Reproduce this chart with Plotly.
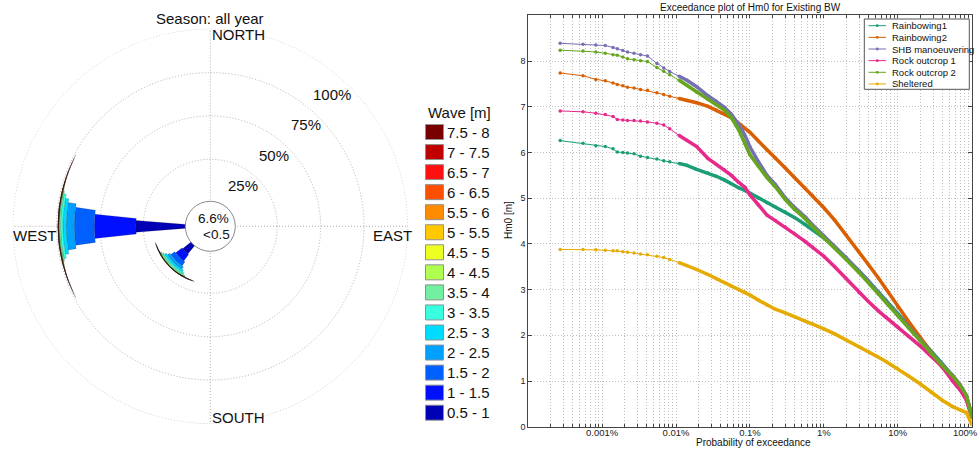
import plotly.graph_objects as go

# ---------------- Wave rose data ----------------
wave_classes = ["0.5 - 1", "1 - 1.5", "1.5 - 2", "2 - 2.5", "2.5 - 3", "3 - 3.5", "3.5 - 4",
                "4 - 4.5", "4.5 - 5", "5 - 5.5", "5.5 - 6", "6 - 6.5", "6.5 - 7", "7 - 7.5", "7.5 - 8"]
wave_colors = ["#0000b4", "#0010ff", "#0060ff", "#00a0ff", "#00dcff", "#38ffe0", "#70f0a0",
               "#b0ff50", "#ecff20", "#ffc800", "#ff8c00", "#ff5000", "#ff1010", "#c00000", "#780000"]
rose_directions = [270, 225]
freq_west = [29.3, 24.0, 11.5, 4.7, 1.9, 1.4, 0.8, 0.2, 0.12, 0.08, 0.06, 0.05, 0.04, 0.04, 0.04]
freq_sw = [6.9, 4.6, 2.9, 1.7, 1.1, 0.9, 0.9, 0.12, 0.08, 0.06, 0.05, 0.04, 0.03, 0.03, 0.03]
sector_width_west = [9, 12, 16, 19, 22, 25, 27, 30, 34, 38, 42, 46, 50, 53, 56]
sector_width_sw = [12, 15, 19, 23, 27, 31, 35, 38, 42, 46, 50, 52, 54, 56, 58]
calm_label = ["6.6%", "<0.5"]
radial_ticks = [25, 50, 75, 100]
radial_labels = ["25%", "50%", "75%", "100%"]

# ---------------- Exceedance data ----------------
prob_pct = [0.00027, 0.00055, 0.00082, 0.0011, 0.0014, 0.0016, 0.0019, 0.0022, 0.0027, 0.0033,
            0.0041, 0.0055, 0.0068, 0.0082, 0.011, 0.014, 0.019, 0.027, 0.035, 0.045,
            0.055, 0.07, 0.085, 0.1, 0.13, 0.17, 0.22, 0.3, 0.4, 0.55,
            0.7, 1.0, 1.4, 2.0, 3.0, 4.0, 5.5, 7.0, 10, 14,
            20, 28, 40, 55, 70, 85, 100]
hm0_rainbowing1 = [6.26, 6.20, 6.15, 6.13, 6.08, 6.01, 6.00, 5.99, 5.97, 5.92,
                   5.89, 5.86, 5.82, 5.80, 5.76, 5.72, 5.63, 5.55, 5.48, 5.40,
                   5.32, 5.23, 5.17, 5.11, 5.00, 4.90, 4.81, 4.70, 4.58, 4.43,
                   4.31, 4.13, 3.93, 3.69, 3.41, 3.19, 2.95, 2.76, 2.48, 2.21,
                   1.93, 1.66, 1.38, 1.10, 0.89, 0.66, 0.25]
hm0_rainbowing2 = [7.74, 7.68, 7.60, 7.57, 7.52, 7.49, 7.46, 7.43, 7.41, 7.38,
                   7.36, 7.31, 7.27, 7.23, 7.18, 7.14, 7.09, 7.01, 6.93, 6.84,
                   6.77, 6.64, 6.52, 6.44, 6.25, 6.05, 5.88, 5.66, 5.45, 5.23,
                   5.06, 4.79, 4.52, 4.20, 3.82, 3.55, 3.25, 3.00, 2.62, 2.30,
                   1.96, 1.65, 1.30, 1.06, 0.86, 0.66, 0.30]
hm0_shb = [8.39, 8.37, 8.35, 8.34, 8.30, 8.27, 8.23, 8.20, 8.17, 8.14,
           8.11, 7.95, 7.85, 7.77, 7.67, 7.58, 7.44, 7.24, 7.12, 6.99,
           6.85, 6.62, 6.38, 6.12, 5.80, 5.50, 5.30, 5.01, 4.80, 4.60,
           4.42, 4.18, 3.95, 3.70, 3.40, 3.19, 2.92, 2.73, 2.45, 2.18,
           1.90, 1.63, 1.36, 1.13, 0.92, 0.68, 0.25]
hm0_rock1 = [6.91, 6.89, 6.86, 6.83, 6.79, 6.72, 6.71, 6.70, 6.70, 6.69,
             6.67, 6.64, 6.60, 6.52, 6.37, 6.27, 6.13, 5.87, 5.74, 5.62,
             5.51, 5.35, 5.24, 5.07, 4.85, 4.63, 4.51, 4.37, 4.22, 4.06,
             3.93, 3.73, 3.50, 3.24, 2.93, 2.74, 2.53, 2.39, 2.18, 1.98,
             1.77, 1.55, 1.31, 1.00, 0.80, 0.58, 0.20]
hm0_rock2 = [8.24, 8.22, 8.20, 8.17, 8.14, 8.13, 8.09, 8.05, 8.03, 8.01,
             7.99, 7.86, 7.78, 7.70, 7.58, 7.47, 7.32, 7.16, 7.05, 6.93,
             6.78, 6.50, 6.20, 5.95, 5.70, 5.45, 5.25, 4.97, 4.76, 4.56,
             4.38, 4.14, 3.91, 3.66, 3.37, 3.16, 2.90, 2.71, 2.43, 2.16,
             1.88, 1.61, 1.34, 1.11, 0.90, 0.68, 0.20]
hm0_sheltered = [3.88, 3.88, 3.87, 3.86, 3.85, 3.85, 3.83, 3.82, 3.80, 3.78,
                 3.76, 3.73, 3.70, 3.66, 3.59, 3.53, 3.44, 3.33, 3.24, 3.15,
                 3.08, 3.01, 2.95, 2.88, 2.77, 2.66, 2.57, 2.49, 2.41, 2.32,
                 2.25, 2.14, 2.03, 1.90, 1.75, 1.64, 1.52, 1.42, 1.27, 1.11,
                 0.94, 0.76, 0.58, 0.44, 0.37, 0.31, 0.05]
series_names = ["Rainbowing1", "Rainbowing2", "SHB manoeuvering", "Rock outcrop 1", "Rock outcrop 2", "Sheltered"]
series_values = [hm0_rainbowing1, hm0_rainbowing2, hm0_shb, hm0_rock1, hm0_rock2, hm0_sheltered]
series_colors = ["#1b9e77", "#d95f02", "#7570b3", "#e7298a", "#66a61e", "#e6ab02"]
x_major_ticks = [0.001, 0.01, 0.1, 1, 10, 100]
x_tick_labels = ["0.001%", "0.01%", "0.1%", "1%", "10%", "100%"]
y_ticks = [0, 1, 2, 3, 4, 5, 6, 7, 8]

W, H = 980, 450
def PX(x): return x / W
def PY(y): return 1 - y / H

FONT = "Liberation Sans, Arial, Helvetica, sans-serif"
fig = go.Figure()

# ---------------- Rose ----------------
for i, cls in enumerate(wave_classes):
    fig.add_trace(go.Barpolar(
        r=[freq_west[i], freq_sw[i]], theta=rose_directions,
        width=[sector_width_west[i], sector_width_sw[i]],
        marker=dict(color=wave_colors[i], line=dict(color="rgba(0,0,0,0.45)", width=0.35)),
        name=cls, showlegend=False, subplot="polar", hoverinfo="skip"))

cx, cy, R, r0 = 210.3, 226.3, 197.0, 23.7
GRID = "#b0b0b0"
DOTS = "1px,2px"
fig.update_layout(polar=dict(
    domain=dict(x=[PX(cx - R), PX(cx + R)], y=[PY(cy + R), PY(cy - R)]),
    hole=r0 / R, bgcolor="white", barmode="stack",
    radialaxis=dict(range=[0, 100], tickvals=radial_ticks, showticklabels=False, ticks="",
                    showline=False, gridcolor=GRID, griddash=DOTS, gridwidth=1),
    angularaxis=dict(direction="clockwise", rotation=90, tickvals=[0, 90, 180, 270],
                     showticklabels=False, ticks="", showline=False,
                     gridcolor=GRID, griddash=DOTS, gridwidth=1)))

shapes = []
annotations = []
# outer 100% ring
shapes.append(dict(type="circle", xref="paper", yref="paper",
                   x0=PX(cx - R), x1=PX(cx + R), y0=PY(cy + R), y1=PY(cy - R),
                   line=dict(color=GRID, width=1, dash=DOTS), layer="below"))
# centre calm circle
rc = 25.0
shapes.append(dict(type="circle", xref="paper", yref="paper",
                   x0=PX(cx - rc), x1=PX(cx + rc), y0=PY(cy + rc), y1=PY(cy - rc),
                   line=dict(color="#8a8a8a", width=1), fillcolor="white", layer="above"))
annotations.append(dict(x=PX(213.5), y=PY(218.5), text=calm_label[0], size=13.5))
annotations.append(dict(x=PX(216), y=PY(234), text=calm_label[1], size=13.5))
# radial labels
for lab, (lx, ly) in zip(radial_labels, [(243, 185), (274, 155), (306, 124), (332, 94)]):
    annotations.append(dict(x=PX(lx), y=PY(ly), text=lab))
annotations.append(dict(x=PX(210), y=PY(18), text="Season: all year"))
annotations.append(dict(x=PX(210), y=PY(35), text="NORTH", xanchor="left"))
annotations.append(dict(x=PX(210), y=PY(417), text="SOUTH", xanchor="left"))
annotations.append(dict(x=PX(371), y=PY(235), text="EAST", xanchor="left"))
annotations.append(dict(x=PX(11), y=PY(235), text="WEST", xanchor="left"))
for a in annotations:
    sz = a.pop("size", 15)
    a.update(xref="paper", yref="paper", showarrow=False,
             font=dict(family=FONT, size=sz, color="#111"))
    a.setdefault("xanchor", "center")
    a["yanchor"] = "middle"

# wave legend
annotations.append(dict(x=PX(426), y=PY(112.5), xref="paper", yref="paper", text="Wave [m]",
                        showarrow=False, xanchor="left", yanchor="middle",
                        font=dict(family=FONT, size=15, color="#111")))
for k in range(len(wave_classes)):
    idx = len(wave_classes) - 1 - k
    yc = 132 + 20.05 * k
    shapes.append(dict(type="rect", xref="paper", yref="paper",
                       x0=PX(425.5), x1=PX(443.5), y0=PY(yc + 7.5), y1=PY(yc - 7.5),
                       fillcolor=wave_colors[idx], line=dict(color="#909090", width=1)))
    annotations.append(dict(x=PX(445), y=PY(yc), xref="paper", yref="paper", text=wave_classes[idx],
                            showarrow=False, xanchor="left", yanchor="middle",
                            font=dict(family=FONT, size=15, color="#111")))

# ---------------- Exceedance ----------------
thick_from = 14
for name, vals, col in zip(series_names, series_values, series_colors):
    fig.add_trace(go.Scatter(x=prob_pct, y=vals, mode="lines+markers", name=name,
                             line=dict(color=col, width=1), marker=dict(color=col, size=3.5),
                             showlegend=False, xaxis="x", yaxis="y", hoverinfo="skip"))
    fig.add_trace(go.Scatter(x=prob_pct[thick_from:], y=vals[thick_from:], mode="lines", name=name,
                             line=dict(color=col, width=3.5), showlegend=False,
                             xaxis="x", yaxis="y", hoverinfo="skip"))

# tick labels inside the div come from the axis; the right-most one (at the div edge) is an annotation
x_tickvals, x_ticktext = [], []
for d in [0.0001] + x_major_ticks[:-1]:
    for m in range(1, 10):
        v = round(d * m, 8)
        x_tickvals.append(v)
        x_ticktext.append(x_tick_labels[x_major_ticks.index(v)] if v in x_major_ticks else "")
x_tickvals.append(x_major_ticks[-1])
x_ticktext.append("")

CGRID = "#c0c0c0"
fig.update_layout(
    xaxis=dict(type="log", domain=[PX(528.3), PX(971.7)], range=[-4, 2.0005], tickmode="array",
               tickvals=x_tickvals, ticktext=x_ticktext, ticks="inside", ticklen=3,
               ticklabelstandoff=-3,
               showgrid=True, gridcolor=CGRID, griddash=DOTS, gridwidth=1,
               showline=True, linecolor="#444", linewidth=1, mirror="ticks", automargin=False,
               tickfont=dict(family=FONT, size=9.5, color="#222"), zeroline=False),
    yaxis=dict(domain=[PY(426.7), PY(15.4)], range=[0, 9], tickmode="array", tickvals=y_ticks,
               ticks="inside", ticklen=4, showgrid=True, gridcolor=CGRID, griddash=DOTS,
               gridwidth=1, showline=True, linecolor="#444", linewidth=1, mirror="ticks",
               automargin=False,
               tickfont=dict(family=FONT, size=9, color="#222"), zeroline=False),
)
annotations.append(dict(x=1.0, y=PY(432.5), xref="paper", yref="paper",
                        text=x_tick_labels[-1], showarrow=False, xanchor="right", yanchor="middle",
                        font=dict(family=FONT, size=9.5, color="#222")))
annotations.append(dict(x=PX(750), y=1.0, xref="paper", yref="paper",
                        text="Exceedance plot of Hm0 for Existing BW", showarrow=False,
                        xanchor="center", yanchor="top",
                        font=dict(family=FONT, size=10, color="#111")))
annotations.append(dict(x=PX(753), y=0, xref="paper", yref="paper",
                        text="Probability of exceedance", showarrow=False,
                        xanchor="center", yanchor="bottom",
                        font=dict(family=FONT, size=10, color="#111")))
annotations.append(dict(x=PX(508), y=PY(220), xref="paper", yref="paper", text="Hm0 [m]",
                        textangle=-90, showarrow=False,
                        font=dict(family=FONT, size=10, color="#111")))

# exceedance legend
shapes.append(dict(type="rect", xref="paper", yref="paper", x0=PX(864.3), x1=PX(969.3),
                   y0=PY(89.3), y1=PY(19), fillcolor="white", line=dict(color="#555", width=1)))
for k, (name, col) in enumerate(zip(series_names, series_colors)):
    yc = 25.7 + 11.65 * k
    shapes.append(dict(type="line", xref="paper", yref="paper", x0=PX(868.5), x1=PX(886),
                       y0=PY(yc), y1=PY(yc), line=dict(color=col, width=1)))
    shapes.append(dict(type="circle", xref="paper", yref="paper", x0=PX(875.8), x1=PX(878.7),
                       y0=PY(yc + 1.4), y1=PY(yc - 1.4), fillcolor=col, line=dict(color=col, width=0)))
    annotations.append(dict(x=PX(889.5), y=PY(yc), xref="paper", yref="paper", text=name,
                            showarrow=False, xanchor="left", yanchor="middle",
                            font=dict(family=FONT, size=9.5, color="#111")))

fig.update_layout(width=W, height=H, margin=dict(l=0, r=0, t=0, b=0, pad=0),
                  paper_bgcolor="white", plot_bgcolor="white",
                  shapes=shapes, annotations=annotations, showlegend=False)

fig.write_html("out.html", config={"displayModeBar": False},
               post_script="document.body.style.margin='0';")
